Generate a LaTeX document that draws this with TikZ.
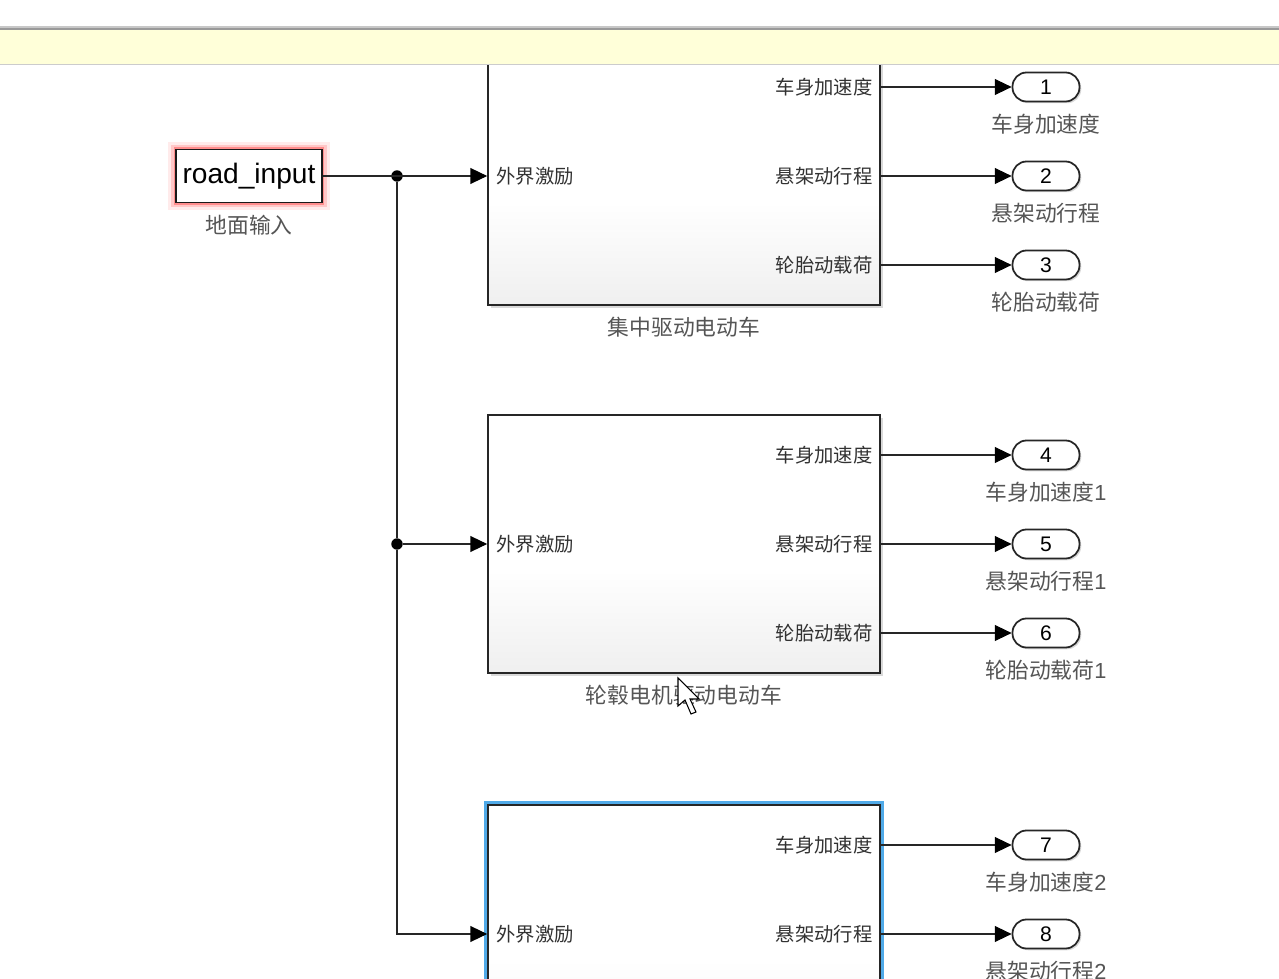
\documentclass[tikz,border=0pt]{standalone}
\usepackage{fontspec}
\setmainfont{Liberation Sans}
\newfontfamily\cjk{Noto Sans CJK SC}
\usetikzlibrary{arrows.meta,positioning,shadows}
\definecolor{slBanner}{RGB}{255,255,217}
\definecolor{slSelect}{RGB}{80,170,232}
\definecolor{slText}{RGB}{50,50,50}
\definecolor{slLabel}{RGB}{85,85,85}
\pgfdeclareverticalshading{slblock}{100bp}{color(0bp)=(black!14); color(45bp)=(white); color(100bp)=(white)}

\begin{document}
\begin{tikzpicture}[x=0.02cm, y=-0.02cm,
    blk/.style={rectangle, draw=black!85, line width=1pt, shading=slblock,
                minimum width=7.84cm, minimum height=5.16cm,
                drop shadow={shadow xshift=1.5pt, shadow yshift=-1.5pt, opacity=0.3}},
    sel/.style={preaction={draw=slSelect, line width=4.5pt}},
    road/.style={rectangle, draw=black!90, line width=1pt, fill=white,
                 minimum width=2.92cm, minimum height=1.06cm, inner sep=0pt,
                 font=\fontsize{16}{18}\selectfont,
                 preaction={draw=red!8, line width=9pt},
                 preaction={draw=red!22, line width=5.5pt},
                 preaction={draw=red!45, line width=2.5pt}},
    outp/.style={rectangle, rounded corners=0.28cm, draw=black!85, line width=1pt,
                 fill=white, minimum width=1.34cm, minimum height=0.58cm, inner sep=0pt,
                 font=\fontsize{12}{13}\selectfont,
                 drop shadow={shadow xshift=1pt, shadow yshift=-1pt, opacity=0.3}},
    plbl/.style={font=\cjk\fontsize{11}{12}\selectfont, text=slText, inner sep=0pt},
    lbl/.style={font=\cjk\fontsize{12.4}{14}\selectfont, text=slLabel, inner sep=0pt},
    dot/.style={circle, fill=black, inner sep=0pt, minimum size=6.5pt},
    wire/.style={line width=0.6pt, draw=black!85},
    arr/.style={wire, -{Triangle[length=9.5pt, width=9pt, color=black]}}
  ]
  \useasboundingbox (0,0) rectangle (1279,979);
  \clip (0,0) rectangle (1279,979);

  % Subsystems
  \node[blk]      (car1) at (684,176) {};
  \node[blk]      (car2) at (684,544) {};
  \node[blk, sel] (car3) at (684,934) {};
  \node[lbl] (name1) at (684,327) {集中驱动电动车};
  \node[lbl] (name2) at (684,695) {轮毂电机驱动电动车};
  \node[plbl, anchor=west, xshift=0.18cm] (in1) at (car1.west) {外界激励};
  \node[plbl, anchor=west, xshift=0.18cm] (in2) at (car2.west) {外界激励};
  \node[plbl, anchor=west, xshift=0.18cm] (in3) at (car3.west) {外界激励};

  % Input and branches
  \node[road] (road) at (249,176) {road\_input};
  \node[lbl]  (roadn) at (249,225) {地面输入};
  \node[dot] (j1) at (397,176) {};
  \node[dot] (j2) at (397,544) {};
  \draw[arr]  (road) -- (car1);
  \draw[wire] (j1) -- (j2);
  \draw[arr]  (j2) -- (car2);
  \draw[arr]  (j2) |- (car3);

  % Outports
  \foreach \n/\b/\y/\t/\s in {1/car1/87/车身加速度/{}, 2/car1/176/悬架动行程/{},
      3/car1/265/轮胎动载荷/{}, 4/car2/455/车身加速度/1, 5/car2/544/悬架动行程/1,
      6/car2/633/轮胎动载荷/1, 7/car3/845/车身加速度/2, 8/car3/934/悬架动行程/2}{
    \node[outp] (o\n) at (1046,\y) {\n};
    \node[lbl] (lab\n) at (1046,\y+37) {\t\textrm{\s}};
    \node[plbl, anchor=east, xshift=-0.16cm] (p\n) at (\b.east |- o\n) {\t};
    \draw[arr] (\b.east |- o\n) -- (o\n);
  }

  % Banner on top
  \fill[black!22] (0,26) rectangle (1279,30);
  \draw[black!40, line width=0.8pt] (0,29) -- (1279,29);
  \fill[slBanner] (0,30) rectangle (1279,64);
  \draw[black!20] (0,64.5) -- (1279,64.5);

  % Mouse pointer
  \filldraw[fill=white, draw=black, line width=0.6pt] (678,678) -- (678,706) -- (685,700)
    -- (691,714) -- (696,712) -- (690,699) -- (699,699) -- cycle;
\end{tikzpicture}
\end{document}
